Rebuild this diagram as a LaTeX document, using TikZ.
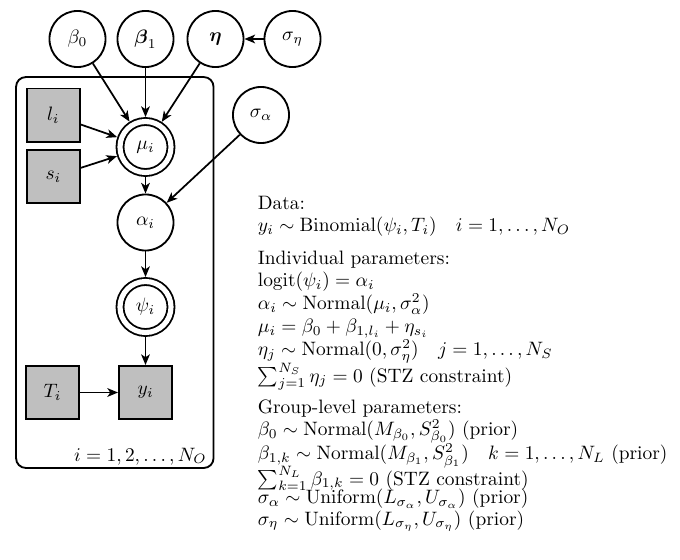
\documentclass[tikz,border=0pt]{standalone}
\usepackage{amsmath,amssymb}
\usetikzlibrary{arrows.meta}
\begin{document}
\begin{tikzpicture}[x=0.5155pt,y=-0.5155pt,
  latent/.style={circle, draw, line width=0.95pt, minimum size=28.9pt, inner sep=0pt},
  det/.style={circle, draw, line width=0.95pt, double, double distance=2.65pt, minimum size=26.3pt, inner sep=0pt, outer sep=2.3pt},
  obs/.style={rectangle, draw, line width=0.95pt, fill=black!25, minimum size=27.4pt, inner sep=0pt},
  edge/.style={-{Stealth[length=5.5pt,width=4.5pt,inset=1.5pt]}, line width=0.9pt},
  plate/.style={draw, line width=0.95pt, rounded corners=5pt, inner sep=0pt},
  txt/.style={anchor=base west, inner sep=0pt}]
\useasboundingbox (0,0) rectangle (680,559);
% plate
\node[plate, minimum width=101.8pt, minimum height=201.5pt] (plate) at (114.8,272.5) {};
\node[anchor=base east, inner sep=0pt] (platelabel) at (207,461) {$i=1,2,\ldots,N_O$};
% nodes
\node[latent] (b0) at (77.5,39) {$\beta_0$};
\node[latent] (b1) at (145.5,39) {$\boldsymbol{\beta}_1$};
\node[latent] (eta) at (215.5,39) {$\boldsymbol{\eta}$};
\node[latent] (seta) at (292.5,39) {$\sigma_\eta$};
\node[latent] (salpha) at (261,115) {$\sigma_\alpha$};
\node[obs] (l) at (53.3,115) {$l_i$};
\node[obs] (s) at (53.3,176.7) {$s_i$};
\node[det] (mu) at (145.5,147) {$\mu_i$};
\node[latent] (alpha) at (145.5,222.5) {$\alpha_i$};
\node[det] (psi) at (145.5,307) {$\psi_i$};
\node[obs] (T) at (52.5,392.5) {$T_i$};
\node[obs] (y) at (145.5,392.5) {$y_i$};
% edges
\draw[edge] (b0) -- (mu);
\draw[edge] (b1) -- (mu);
\draw[edge] (eta) -- (mu);
\draw[edge] (seta) -- (eta);
\draw[edge] (l) -- (mu);
\draw[edge] (s) -- (mu);
\draw[edge] (mu) -- (alpha);
\draw[edge] (salpha) -- (alpha);
\draw[edge] (alpha) -- (psi);
\draw[edge] (psi) -- (y);
\draw[edge] (T) -- (y);
% text lines
\node[txt] (d1) at (257.5,209) {Data:};
\node[txt] (d2) at (257.5,231.5) {$y_i \sim \mathrm{Binomial}(\psi_i,T_i)\quad i=1,\ldots,N_O$};
\node[txt] (i1) at (257.5,264) {Individual parameters:};
\node[txt] (i2) at (257.5,286.8) {$\mathrm{logit}(\psi_i) = \alpha_i$};
\node[txt] (i3) at (257.5,309.6) {$\alpha_i \sim \mathrm{Normal}(\mu_i,\sigma_\alpha^2)$};
\node[txt] (i4) at (257.5,332.4) {$\mu_i = \beta_0 + \beta_{1,l_i} + \eta_{s_i}$};
\node[txt] (i5) at (257.5,355.2) {$\eta_j \sim \mathrm{Normal}(0,\sigma_\eta^2)\quad j=1,\ldots,N_S$};
\node[txt] (i6) at (257.5,382) {$\sum_{j=1}^{N_S}\eta_j = 0$ (STZ constraint)};
\node[txt] (g1) at (257.5,413) {Group-level parameters:};
\node[txt] (g2) at (257.5,435.2) {$\beta_0 \sim \mathrm{Normal}(M_{\beta_0},S^2_{\beta_0})$ (prior)};
\node[txt] (g3) at (257.5,459.5) {$\beta_{1,k} \sim \mathrm{Normal}(M_{\beta_1},S^2_{\beta_1})\quad k=1,\ldots,N_L$ (prior)};
\node[txt] (g4) at (257.5,485) {$\sum_{k=1}^{N_L}\beta_{1,k} = 0$ (STZ constraint)};
\node[txt] (g5) at (257.5,503.5) {$\sigma_\alpha \sim \mathrm{Uniform}(L_{\sigma_\alpha},U_{\sigma_\alpha})$ (prior)};
\node[txt] (g6) at (257.5,525) {$\sigma_\eta \sim \mathrm{Uniform}(L_{\sigma_\eta},U_{\sigma_\eta})$ (prior)};
\end{tikzpicture}
\end{document}
